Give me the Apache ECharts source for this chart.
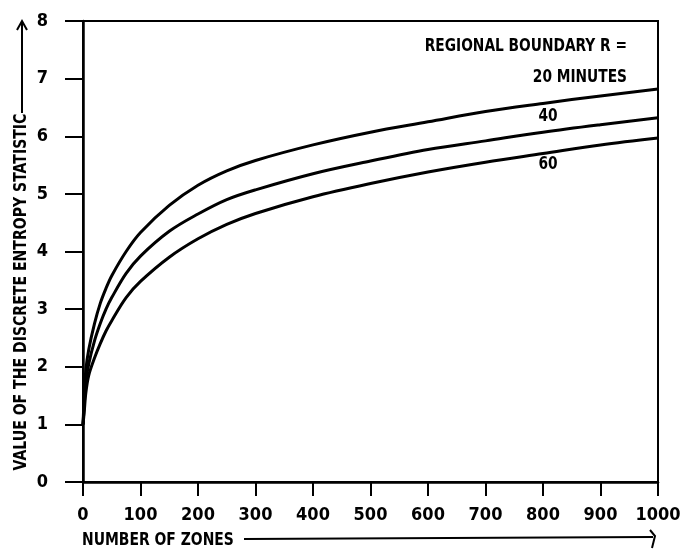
<!DOCTYPE html>
<html><head><meta charset="utf-8">
<script src="https://cdn.jsdelivr.net/npm/echarts@6/dist/echarts.min.js"></script>
<style>html,body{margin:0;padding:0;background:#fff}#c{width:682px;height:554px}</style>
</head><body><div id="c"></div>
<script>
// Number of zones (x values sampled along the curves)
const zones = [0, 2, 5, 10, 20, 30, 40, 50, 75, 100, 150, 200, 250, 300, 400, 500, 600, 700, 800, 900, 1000];
// Entropy statistic for regional boundary R = 20, 40, 60 minutes
const r20 = [1.0, 1.45, 1.95, 2.3, 2.75, 3.1, 3.36, 3.58, 4.0, 4.33, 4.8, 5.15, 5.4, 5.58, 5.85, 6.07, 6.25, 6.43, 6.57, 6.7, 6.82];
const r40 = [1.0, 1.3, 1.75, 2.05, 2.45, 2.75, 3.0, 3.2, 3.62, 3.92, 4.35, 4.65, 4.9, 5.07, 5.35, 5.57, 5.77, 5.92, 6.07, 6.2, 6.32];
const r60 = [1.0, 1.2, 1.55, 1.85, 2.15, 2.4, 2.62, 2.8, 3.2, 3.48, 3.9, 4.22, 4.47, 4.66, 4.95, 5.18, 5.38, 5.55, 5.7, 5.85, 5.97];
const seriesNames = ['20 MINUTES', '40', '60'];
const xTickLabels = ['0', '100', '200', '300', '400', '500', '600', '700', '800', '900', '1000'];
const yTickLabels = ['0', '1', '2', '3', '4', '5', '6', '7', '8'];
const xTitle = 'NUMBER OF ZONES';
const yTitle = 'VALUE OF THE DISCRETE ENTROPY STATISTIC';
const legendTitle = 'REGIONAL BOUNDARY R =';

const FONT = '"DejaVu Sans Condensed", "DejaVu Sans", sans-serif';
const pair = (ys) => zones.map((x, i) => [x, ys[i]]);

const chart = echarts.init(document.getElementById('c'));
const lineStyle = { color: '#000', width: 3 };
const txt = (size) => 'bold ' + size + 'px ' + FONT;
chart.setOption({
  backgroundColor: '#fff',
  animation: false,
  grid: { left: 83, right: 24, top: 21, bottom: 72, show: true, borderColor: '#000', borderWidth: 2, outerBoundsMode: 'none' },
  xAxis: {
    type: 'value', min: 0, max: 1000, interval: 100,
    axisLine: { show: true, lineStyle: { color: '#000', width: 2.5 } },
    axisTick: { show: true, length: 14, lineStyle: { color: '#000', width: 2 } },
    splitLine: { show: false },
    axisLabel: { margin: 24, color: '#000', fontFamily: FONT, fontWeight: 'bold', fontSize: 18,
      formatter: (v) => xTickLabels[Math.round(v / 100)] }
  },
  yAxis: {
    type: 'value', min: 0, max: 8, interval: 1,
    axisLine: { show: true, lineStyle: { color: '#000', width: 2.5 } },
    axisTick: { show: true, length: 18, lineStyle: { color: '#000', width: 2 } },
    splitLine: { show: false },
    axisLabel: { margin: 35, color: '#000', fontFamily: FONT, fontWeight: 'bold', fontSize: 18,
      formatter: (v) => yTickLabels[Math.round(v)] }
  },
  series: [
    { name: seriesNames[0], type: 'line', data: pair(r20), smooth: 0.35, symbol: 'none', lineStyle },
    { name: seriesNames[1], type: 'line', data: pair(r40), smooth: 0.35, symbol: 'none', lineStyle },
    { name: seriesNames[2], type: 'line', data: pair(r60), smooth: 0.35, symbol: 'none', lineStyle }
  ],
  graphic: [
    { type: 'text', x: 22, y: 292, rotation: Math.PI / 2, scaleX: 0.92, style: { text: yTitle, fill: '#000', font: txt(17), textAlign: 'center', textVerticalAlign: 'middle' } },
    { type: 'polyline', shape: { points: [[22, 113], [22, 21]] }, style: { stroke: '#000', lineWidth: 2, fill: null } },
    { type: 'polyline', shape: { points: [[17, 30], [22, 21], [27, 30]] }, style: { stroke: '#000', lineWidth: 2, fill: null } },
    { type: 'text', x: 82, y: 540, scaleX: 0.86, style: { text: xTitle, fill: '#000', font: txt(18), textAlign: 'left', textVerticalAlign: 'middle' } },
    { type: 'polyline', shape: { points: [[244, 539], [653, 537]] }, style: { stroke: '#000', lineWidth: 2, fill: null } },
    { type: 'polyline', shape: { points: [[650, 530], [655, 536], [652, 548]] }, style: { stroke: '#000', lineWidth: 2, fill: null } },
    { type: 'text', x: 627, y: 47, scaleX: 0.9, style: { text: legendTitle, fill: '#000', font: txt(17), textAlign: 'right', textVerticalAlign: 'middle' } },
    { type: 'text', x: 627, y: 78, scaleX: 0.9, style: { text: seriesNames[0], fill: '#000', font: txt(17), textAlign: 'right', textVerticalAlign: 'middle' } },
    { type: 'text', x: 548, y: 117, scaleX: 0.9, style: { text: seriesNames[1], fill: '#000', font: txt(17), textAlign: 'center', textVerticalAlign: 'middle' } },
    { type: 'text', x: 548, y: 165, scaleX: 0.9, style: { text: seriesNames[2], fill: '#000', font: txt(17), textAlign: 'center', textVerticalAlign: 'middle' } }
  ]
});
</script>
</body></html>
